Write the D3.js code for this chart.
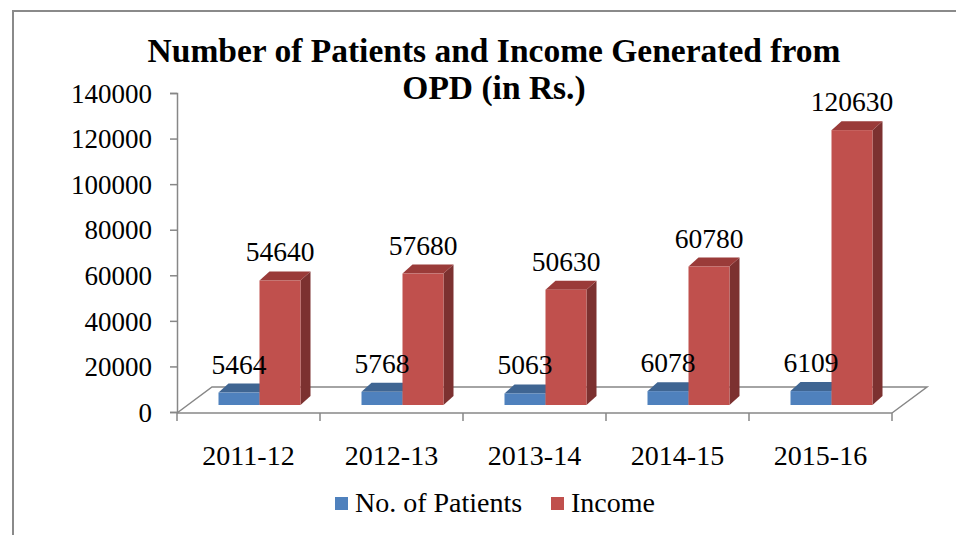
<!DOCTYPE html>
<html>
<head>
<meta charset="utf-8">
<script src="https://cdn.jsdelivr.net/npm/d3@7"></script>
<style>
  body { margin: 0; background: #fff; }
  .axis path, .axis line { stroke: #878787; stroke-width: 1.5; }
</style>
</head>
<body>
<svg id="chart" width="956" height="535"></svg>
<script>
// data
const years = ['2011-12', '2012-13', '2013-14', '2014-15', '2015-16'];
const seriesNames = ['No. of Patients', 'Income'];
const patients = [5464, 5768, 5063, 6078, 6109];
const income = [54640, 57680, 50630, 60780, 120630];
const yTicks = [0, 20000, 40000, 60000, 80000, 100000, 120000, 140000];

const colors = {
  'No. of Patients': { front: '#4F81BD', top: '#3F6592', side: '#34547C' },
  'Income': { front: '#C0504D', top: '#9A3B39', side: '#7C3130' }
};
const serif = '"Liberation Serif", "Times New Roman", serif';

const svg = d3.select('#chart');

// outer frame (only top and left edges are visible)
svg.append('path')
  .attr('d', 'M 13 535 L 13 11 L 956 11')
  .attr('fill', 'none')
  .attr('stroke', '#8a8a8a')
  .attr('stroke-width', 2);

// title
const title = svg.append('text')
  .attr('text-anchor', 'middle')
  .style('font-family', serif)
  .style('font-weight', 'bold')
  .style('font-size', '33.5px');
title.append('tspan').attr('x', 494).attr('y', 62).text('Number of Patients and Income Generated from');
title.append('tspan').attr('x', 494).attr('y', 99).text('OPD (in Rs.)');

// scales
const y = d3.scaleLinear().domain([0, 140000]).range([412, 93]);
const x0 = d3.scaleBand().domain(years).range([177, 892]);
const x1 = d3.scaleBand().domain(seriesNames).range([0, 82]);

const depthX = 35, depthY = -26;   // floor depth
const barDX = 10, barDY = -9;      // bar depth
const barLift = 7;                 // bars sit mid-floor

// floor outline
const fl = y(0) + 1;
svg.append('path')
  .attr('d', `M ${x0.range()[0]} ${fl} L ${x0.range()[0] + depthX} ${fl + depthY} L ${x0.range()[1] + depthX} ${fl + depthY} L ${x0.range()[1]} ${fl}`)
  .attr('fill', 'none')
  .attr('stroke', '#878787')
  .attr('stroke-width', 1.5);

// value axis
const yAxis = svg.append('g')
  .attr('class', 'axis')
  .attr('transform', 'translate(177,0)')
  .call(d3.axisLeft(y).tickValues(yTicks).tickSize(7).tickPadding(18).tickFormat(d3.format('d')));
yAxis.selectAll('text')
  .style('font-family', serif)
  .style('font-size', '27px')
  .attr('dy', '0.34em');

// category axis
const xAxis = svg.append('g')
  .attr('class', 'axis')
  .attr('transform', `translate(0,${fl})`)
  .call(d3.axisBottom(x0).tickSize(0));
xAxis.select('.domain').remove();
xAxis.selectAll('text')
  .style('font-family', serif)
  .style('font-size', '28px')
  .attr('y', 52)
  .attr('dy', 0);
xAxis.append('line')
  .attr('x1', x0.range()[0]).attr('x2', x0.range()[1])
  .attr('stroke', '#878787').attr('stroke-width', 1.5);
xAxis.selectAll('.bound')
  .data(years.map(d => x0(d)).concat([x0.range()[1]]))
  .join('line')
  .attr('class', 'bound')
  .attr('x1', d => d).attr('x2', d => d)
  .attr('y1', 0).attr('y2', 8)
  .attr('stroke', '#878787').attr('stroke-width', 1.5);

// 3D bars
const rows = [];
years.forEach((yr, i) => {
  rows.push({ year: yr, series: 'No. of Patients', value: patients[i] });
  rows.push({ year: yr, series: 'Income', value: income[i] });
});

const bw = x1.bandwidth();
const barLeft = d => x0(d.year) + x0.bandwidth() / 2 - 30 + x1(d.series);
const barTop = d => y(d.value) - barLift;
const yb = y(0) - barLift;

svg.append('g').selectAll('g')
  .data(rows)
  .join('g')
  .each(function(d) {
    const g = d3.select(this);
    const xl = barLeft(d), xr = xl + bw, yt = barTop(d);
    const c = colors[d.series];
    g.append('path')
      .attr('d', `M ${xr} ${yb} L ${xr + barDX} ${yb + barDY} L ${xr + barDX} ${yt + barDY} L ${xr} ${yt} Z`)
      .attr('fill', c.side);
    g.append('path')
      .attr('d', `M ${xl} ${yt} L ${xl + barDX} ${yt + barDY} L ${xr + barDX} ${yt + barDY} L ${xr} ${yt} Z`)
      .attr('fill', c.top);
    g.append('rect')
      .attr('x', xl).attr('y', yt)
      .attr('width', bw).attr('height', yb - yt)
      .attr('fill', c.front);
  });

// value labels on top of everything
svg.append('g').selectAll('text')
  .data(rows)
  .join('text')
  .attr('x', d => barLeft(d) + bw / 2)
  .attr('y', d => barTop(d) - 19)
  .attr('text-anchor', 'middle')
  .style('font-family', serif)
  .style('font-size', '27.5px')
  .text(d => d.value);

// legend
const legend = svg.append('g');
const legendX = [335, 551];
seriesNames.forEach((s, i) => {
  legend.append('rect')
    .attr('x', legendX[i]).attr('y', 497)
    .attr('width', 13).attr('height', 13)
    .attr('fill', colors[s].front);
  legend.append('text')
    .attr('x', legendX[i] + 20).attr('y', 512)
    .style('font-family', serif)
    .style('font-size', '28px')
    .text(s);
});
</script>
</body>
</html>
